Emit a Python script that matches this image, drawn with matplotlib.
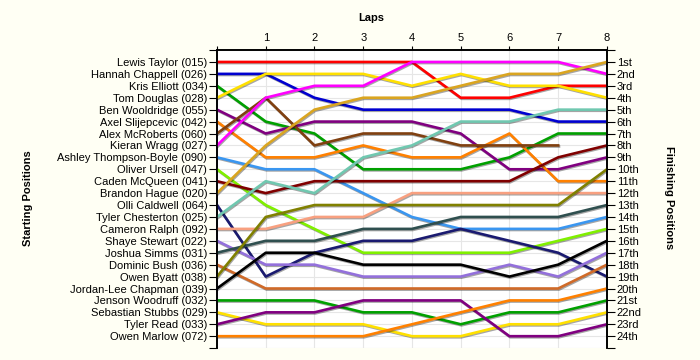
import numpy as np
import matplotlib.pyplot as plt
import matplotlib.patheffects as pe

plt.rcParams['font.family'] = ['Liberation Sans', 'DejaVu Sans']

laps = [0, 1, 2, 3, 4, 5, 6, 7, 8]

drivers = [
    "Lewis Taylor (015)", "Hannah Chappell (026)", "Kris Elliott (034)",
    "Tom Douglas (028)", "Ben Wooldridge (055)", "Axel Slijepcevic (042)",
    "Alex McRoberts (060)", "Kieran Wragg (027)", "Ashley Thompson-Boyle (090)",
    "Oliver Ursell (047)", "Caden McQueen (041)", "Brandon Hague (020)",
    "Olli Caldwell (064)", "Tyler Chesterton (025)", "Cameron Ralph (092)",
    "Shaye Stewart (022)", "Joshua Simms (031)", "Dominic Bush (036)",
    "Owen Byatt (038)", "Jordan-Lee Chapman (039)", "Jenson Woodruff (032)",
    "Sebastian Stubbs (029)", "Tyler Read (033)", "Owen Marlow (072)",
]

# position of each driver at the end of every lap (lap 0 = grid)
positions = [
    [1, 1, 1, 1, 1, 4, 4, 3, 3],
    [2, 2, 4, 5, 5, 5, 5, 6, 6],
    [3, 6, 7, 10, 10, 10, 9, 7, 7],
    [4, 2, 2, 2, 3, 2, 3, 3, 4],
    [5, 7, 6, 6, 6, 7, 10, 10, 9],
    [6, 9, 9, 8, 9, 9, 7, 11, 11],
    [7, 4, 8, 7, 7, 8, 8, 8, np.nan],
    [8, 4, 3, 3, 1, 1, 1, 1, 2],
    [9, 10, 10, 12, 14, 15, 15, 15, 14],
    [10, 13, 15, 17, 17, 17, 17, 16, 15],
    [11, 12, 11, 11, 11, 11, 11, 9, 8],
    [12, 8, 5, 4, 4, 3, 2, 2, 1],
    [13, 19, 17, 16, 16, 15, 16, 17, 19],
    [14, 11, 12, 9, 8, 6, 6, 5, 5],
    [15, 15, 14, 14, 12, 12, 12, 12, 12],
    [16, 18, 18, 19, 19, 19, 18, 19, 17],
    [17, 16, 16, 15, 15, 14, 14, 14, 13],
    [18, 20, 20, 20, 20, 20, 20, 20, 18],
    [19, 14, 13, 13, 13, 13, 13, 13, 10],
    [20, 17, 17, 18, 18, 18, 19, 18, 16],
    [21, 21, 21, 22, 22, 23, 22, 22, 21],
    [22, 23, 23, 23, 24, 24, 23, 23, 22],
    [23, 22, 22, 21, 21, 21, 24, 24, 23],
    [24, 24, 24, 24, 23, 22, 21, 21, 20],
]

colors = [
    "#FF0000", "#0000D0", "#00A000", "#FFE000", "#800080", "#FF8000",
    "#804010", "#FF00FF", "#3A96F0", "#80F000", "#800000", "#DAA520",
    "#1A1A70", "#70C8B0", "#F8A080", "#9370DB", "#2F4F4F", "#D06A28",
    "#808000", "#000000", "#00A000", "#FFE000", "#800080", "#FF8000",
]

finish_labels = ["1st", "2nd", "3rd"] + [f"{i}th" for i in range(4, 21)] + ["21st", "22nd", "23rd", "24th"]

fig = plt.figure(figsize=(7, 3.6), dpi=100, facecolor="#FFFFF4")
ax = fig.add_axes([0.31, 0.033, 0.557, 0.828])
ax.set_facecolor("white")

shadow = [pe.SimpleLineShadow(offset=(0.6, -0.8), shadow_color="black", alpha=0.35), pe.Normal()]
for pos, col in zip(positions, colors):
    ax.plot(laps, pos, color=col, lw=1.9, path_effects=shadow, zorder=3)

ax.set_xlim(0, 8)
ax.set_ylim(25, 0)

ax.set_xticks(laps)
ax.set_xticklabels([""] + [str(l) for l in laps[1:]], fontsize=8)
ax.xaxis.tick_top()
ax.tick_params(axis="x", length=3, width=0.8, pad=2)

ax.set_yticks(range(0, 26))
ax.set_yticklabels([""] + drivers + [""], fontsize=8)
ax.tick_params(axis="y", length=6, width=0.8, pad=1)

ax2 = ax.twinx()
ax2.set_ylim(25, 0)
ax2.set_yticks(range(0, 26))
ax2.set_yticklabels([""] + finish_labels + [""], fontsize=8)
ax2.tick_params(axis="y", length=6, width=0.8, pad=1)

for a in (ax, ax2):
    a.spines["bottom"].set_visible(False)
    for s in ("left", "right", "top"):
        a.spines[s].set_linewidth(1.2)

ax.grid(True, color="#E6E6E6", lw=0.8, zorder=0)
ax.set_axisbelow(True)

fig.text(0.531, 0.95, "Laps", fontsize=8, fontweight="bold", ha="center", va="center")
fig.text(0.04, 0.45, "Starting Positions", fontsize=8, fontweight="bold",
         rotation=90, ha="center", va="center")
fig.text(0.955, 0.45, "Finishing Positions", fontsize=8, fontweight="bold",
         rotation=-90, ha="center", va="center")

fig.savefig("out.png", dpi=100, facecolor=fig.get_facecolor())
